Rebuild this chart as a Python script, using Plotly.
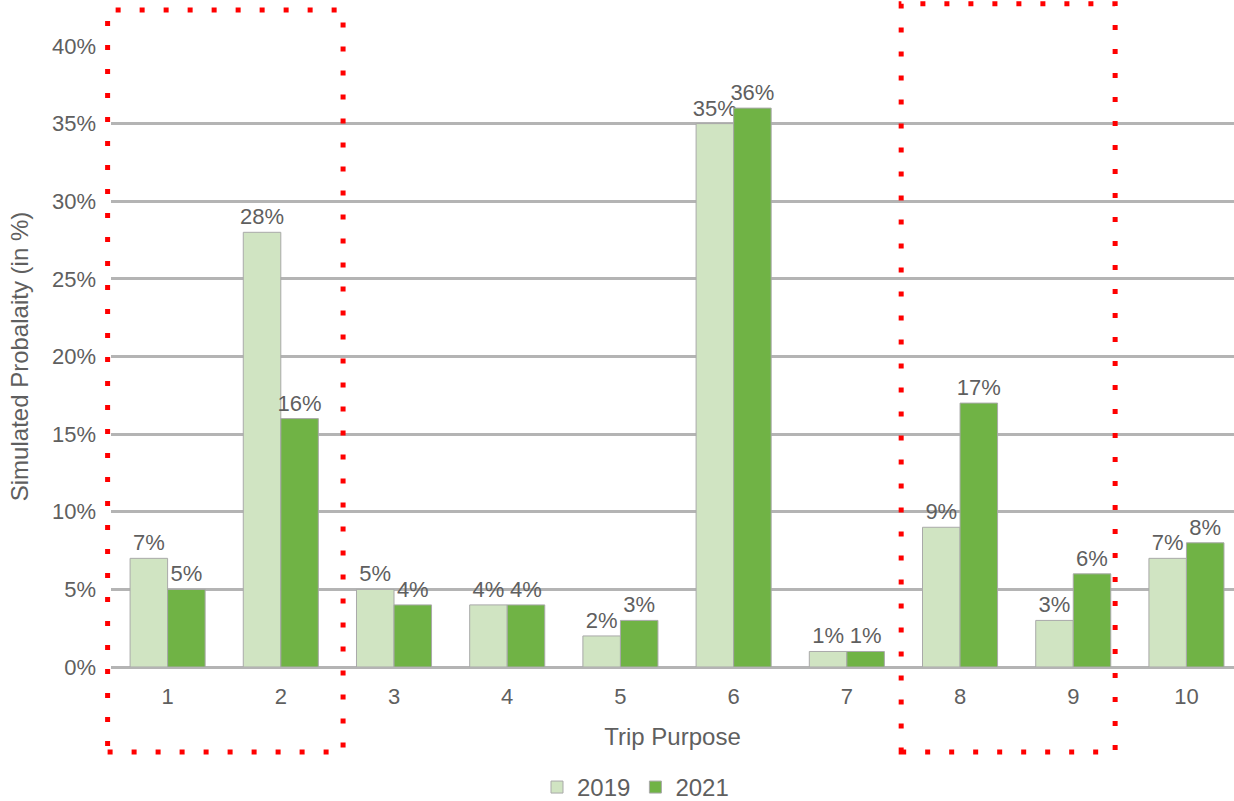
import plotly.graph_objects as go

# Trip purpose categories and simulated probabilities (%)
purposes = ["1", "2", "3", "4", "5", "6", "7", "8", "9", "10"]
prob_2019 = [7, 28, 5, 4, 2, 35, 1, 9, 3, 7]
prob_2021 = [5, 16, 4, 4, 3, 36, 1, 17, 6, 8]
y_ticks = [0, 5, 10, 15, 20, 25, 30, 35, 40]

# Highlighted purpose groups (x in category units, y in paper units)
highlight_boxes = [
    dict(x0=-0.53, x1=1.55, y0=-0.137, y1=1.058),
    dict(x0=6.48, x1=8.37, y0=-0.137, y1=1.068),
]

X_RANGE = [-0.5, 9.42]
GRAY = "#5f5f5f"
FONT = "Liberation Sans, Arial, sans-serif"
FS = 22
FS_TITLE = 24
xpos = list(range(len(purposes)))


def to_paper(xv):
    # category units -> paper fraction, so boxes may extend past the plot area
    return (xv - X_RANGE[0]) / (X_RANGE[1] - X_RANGE[0])


fig = go.Figure()
fig.add_trace(go.Bar(
    name="2019", x=xpos, y=prob_2019,
    marker=dict(color="#d0e4c2", line=dict(color="#a9a9a9", width=1)),
    text=[f"{v}%" for v in prob_2019], textposition="outside",
    constraintext="none",
    textfont=dict(size=FS, color=GRAY, family=FONT), cliponaxis=False,
))
fig.add_trace(go.Bar(
    name="2021", x=xpos, y=prob_2021,
    marker=dict(color="#70b345", line=dict(color="#a9a9a9", width=1)),
    text=[f"{v}%" for v in prob_2021], textposition="outside",
    constraintext="none",
    textfont=dict(size=FS, color=GRAY, family=FONT), cliponaxis=False,
))

for b in highlight_boxes:
    fig.add_shape(type="rect", xref="paper", yref="paper",
                  x0=to_paper(b["x0"]), x1=to_paper(b["x1"]),
                  y0=b["y0"], y1=b["y1"],
                  line=dict(color="#ff0000", width=5, dash="5px,19px"),
                  fillcolor="rgba(0,0,0,0)", layer="above")

fig.update_layout(
    width=1234, height=801,
    margin=dict(l=111, r=0, t=46, b=134),
    paper_bgcolor="white", plot_bgcolor="white",
    barmode="group", bargap=0.337, bargroupgap=0,
    font=dict(family=FONT, color=GRAY, size=FS),
    uniformtext=dict(mode=False),
    showlegend=True,
    legend=dict(orientation="h", xref="container", yref="container",
                x=0.515, y=0.045, xanchor="center", yanchor="top",
                font=dict(size=FS_TITLE, color=GRAY), itemwidth=30,
                traceorder="normal"),
    xaxis=dict(
        range=X_RANGE, tickmode="array", tickvals=xpos, ticktext=purposes,
        showgrid=False, zeroline=False, showline=False, ticks="",
        tickfont=dict(size=FS, color=GRAY), ticklabelstandoff=14,
        title=dict(text="Trip Purpose", font=dict(size=FS_TITLE, color=GRAY), standoff=20),
    ),
    yaxis=dict(
        range=[0, 40], tickmode="array", tickvals=y_ticks,
        ticktext=[f"{v}%" for v in y_ticks],
        showgrid=True, gridcolor="#b4b4b4", gridwidth=2.5,
        zeroline=True, zerolinecolor="#b4b4b4", zerolinewidth=2.5,
        showline=False, ticks="", tickfont=dict(size=FS, color=GRAY),
        ticklabelstandoff=14,
        title=dict(text="Simulated Probalaity (in %)", font=dict(size=FS_TITLE, color=GRAY), standoff=16),
    ),
)

fig.write_html("out.html")
